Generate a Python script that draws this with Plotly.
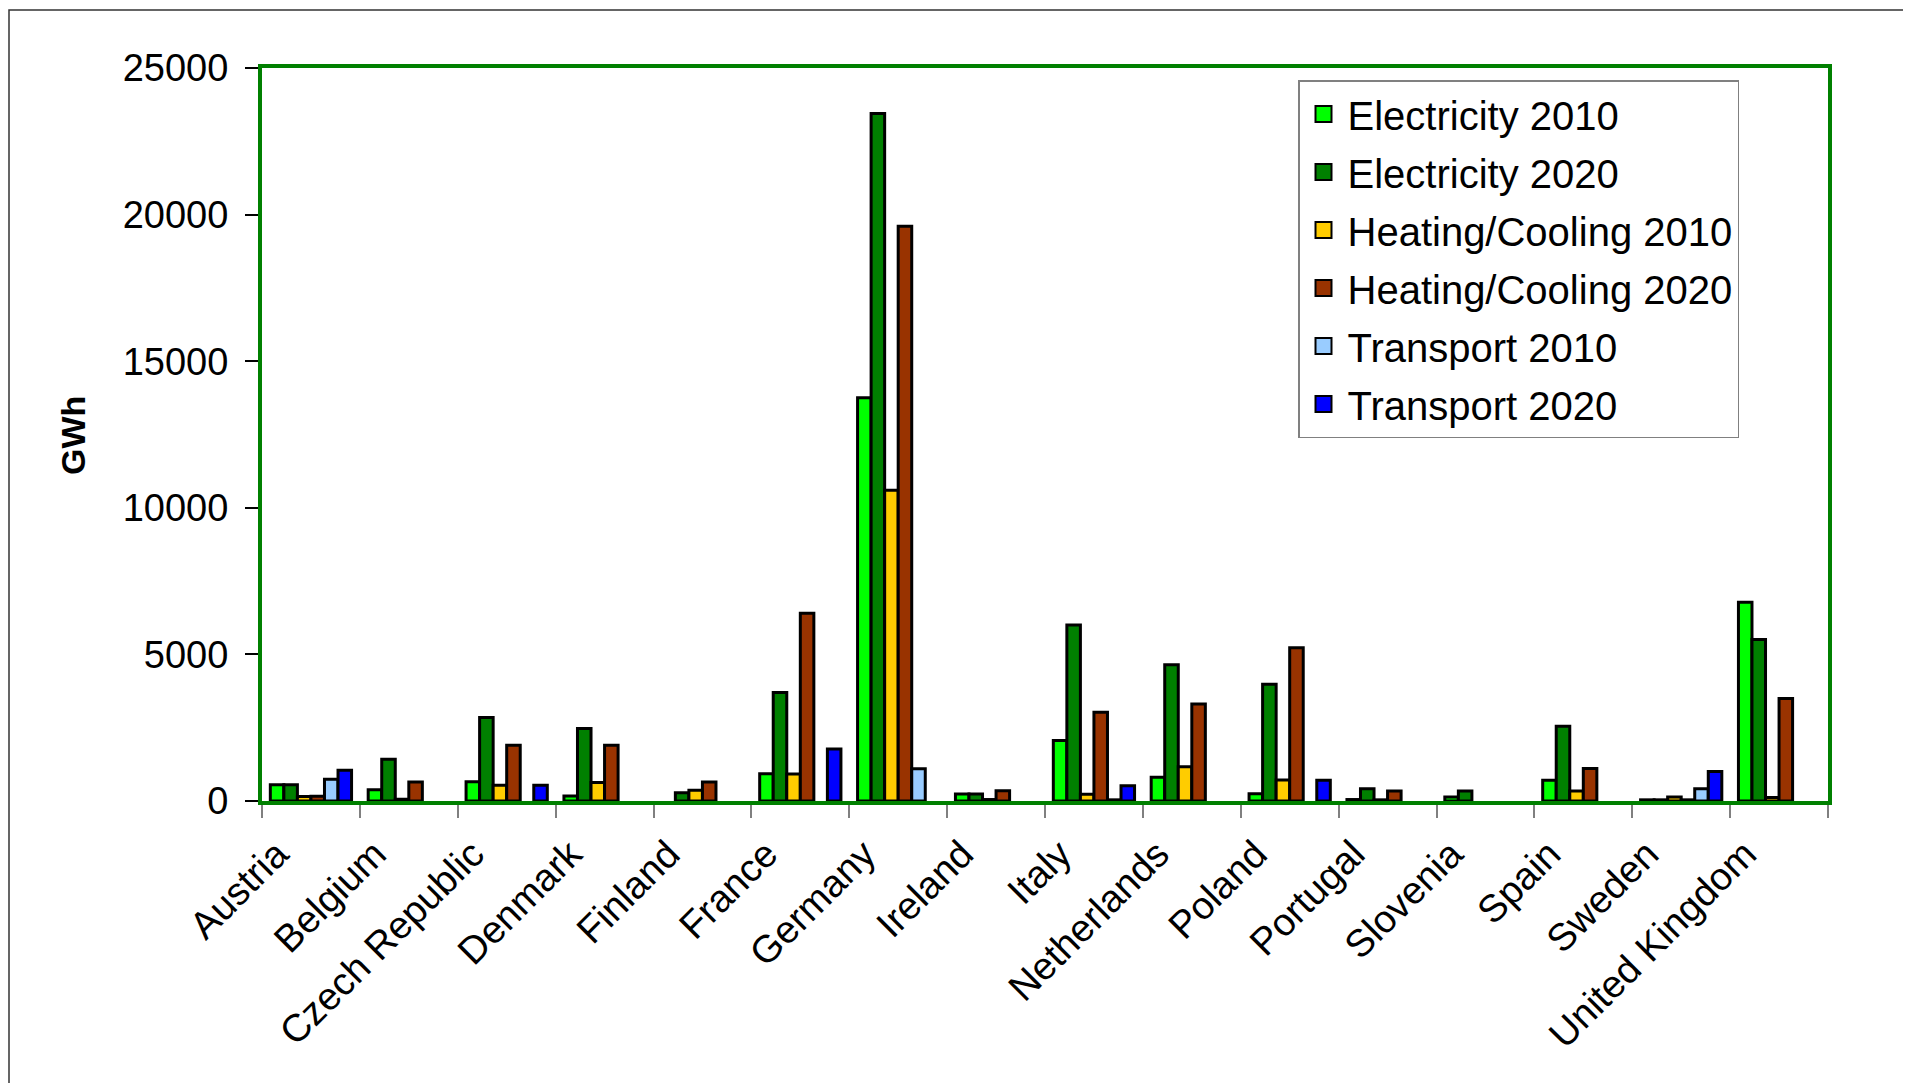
import plotly.graph_objects as go

countries = ["Austria", "Belgium", "Czech Republic", "Denmark", "Finland", "France",
             "Germany", "Ireland", "Italy", "Netherlands", "Poland", "Portugal",
             "Slovenia", "Spain", "Sweden", "United Kingdom"]

# None = no bar drawn
electricity_2010 = [550, 380, 660, 170, None, 930, 13750, 240, 2060, 810, 250, 50, 140, 710, 40, 6780]
electricity_2020 = [550, 1420, 2850, 2470, 280, 3700, 23450, 240, 6000, 4650, 3980, 420, 340, 2550, 40, 5510]
heating_2010 = [150, 60, 540, 630, 370, 920, 10600, 50, 230, 1170, 720, 40, None, 340, 140, 120]
heating_2020 = [160, 650, 1900, 1900, 650, 6400, 19600, 350, 3030, 3310, 5230, 340, None, 1110, 40, 3500]
transport_2010 = [740, None, None, None, None, None, 1100, None, 40, None, None, None, None, None, 420, None]
transport_2020 = [1050, None, 540, None, None, 1775, None, None, 520, None, 710, None, None, None, 1010, None]

series = [
    ("Electricity 2010", electricity_2010, "#00FF00"),
    ("Electricity 2020", electricity_2020, "#008000"),
    ("Heating/Cooling 2010", heating_2010, "#FFCC00"),
    ("Heating/Cooling 2020", heating_2020, "#993300"),
    ("Transport 2010", transport_2010, "#99CCFF"),
    ("Transport 2020", transport_2020, "#0000FF"),
]

FONT = "Liberation Sans, Arial, sans-serif"

fig = go.Figure()
for i, (name, vals, color) in enumerate(series):
    fig.add_trace(go.Bar(
        x=countries, y=vals, name=name, legendgroup=f"g{i}", showlegend=False,
        marker=dict(color=color, line=dict(color="black", width=3)),
    ))
# legend entries with larger square swatches
for i, (name, vals, color) in enumerate(series):
    fig.add_trace(go.Scatter(
        x=[None], y=[None], mode="markers", name=name, legendgroup=f"g{i}",
        marker=dict(symbol="square", size=16, color=color, line=dict(color="black", width=2)),
        hoverinfo="skip",
    ))

OFF = 8  # page body margin
W, H = 1903, 1075
# plot area in page pixels
L, R, T, B = 262, 1828, 68, 801

def px(xp):
    return (xp - L) / (R - L)

def py(yp):
    return (B - yp) / (B - T)

fig.update_layout(
    width=W, height=H,
    margin=dict(l=L - OFF, r=W - (R - OFF), t=T - OFF, b=H - (B - OFF), pad=0),
    paper_bgcolor="white", plot_bgcolor="white",
    barmode="group", bargap=0.17, bargroupgap=0,
    font=dict(family=FONT, color="black"),
    showlegend=True,
    legend=dict(
        x=px(1298), y=py(80), xanchor="left", yanchor="top",
        bgcolor="white", bordercolor="#808080", borderwidth=1.5,
        font=dict(size=40, family=FONT, color="black"),
        traceorder="grouped", tracegroupgap=3,
        itemsizing="trace", itemwidth=38,
    ),
    xaxis=dict(
        type="category", tickangle=-45,
        tickfont=dict(size=38.5, family=FONT, color="black"),
        ticklabelshift=-34, ticklabelstandoff=11,
        showline=True, linecolor="#008000", linewidth=4, mirror=True,
        ticks="outside", tickson="boundaries", ticklen=13, tickcolor="#808080", tickwidth=1.5,
        showgrid=False,
    ),
    yaxis=dict(
        range=[0, 25000], dtick=5000, tick0=0, tickformat="d",
        tickfont=dict(size=38, family=FONT, color="black"),
        showline=True, linecolor="#008000", linewidth=4, mirror=True,
        ticks="outside", ticklen=13, tickcolor="black", tickwidth=1.5,
        ticklabelstandoff=9,
        showgrid=False, zeroline=False,
    ),
    annotations=[dict(
        text="<b>GWh</b>", textangle=-90, xref="paper", yref="paper",
        x=px(73), y=py(436), xanchor="center", yanchor="middle",
        showarrow=False, font=dict(size=34, family=FONT, color="black"),
    )],
    shapes=[dict(
        type="rect", xref="paper", yref="paper",
        x0=px(9), y0=py(1100), x1=px(1940), y1=py(10),
        line=dict(color="#333333", width=1.5), fillcolor="rgba(0,0,0,0)", layer="below",
    )],
)

fig.write_html("out.html")
